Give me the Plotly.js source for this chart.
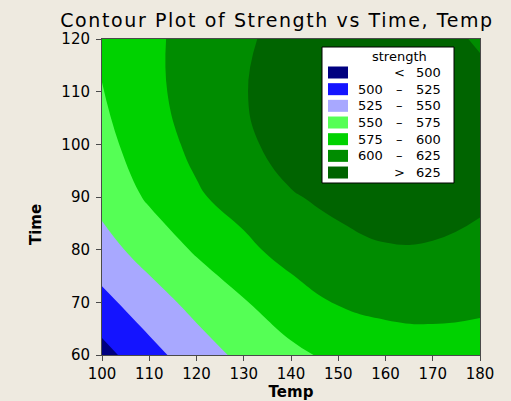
<!DOCTYPE html>
<html><head><meta charset="utf-8">
<script src="https://cdn.plot.ly/plotly-3.0.1.min.js"></script>
<style>
html,body{margin:0;padding:0;background:#eeeae0;}
#chart{width:511px;height:401px;}
.gtitle{letter-spacing:1.6px;}
</style></head><body><div id="chart"></div>
<script>
// Temp (x) and Time (y) grid, strength values
const temp = [100, 110, 120, 130, 140, 150, 160, 170, 180];
const time = [60, 70, 80, 90, 100, 110, 120];
const strengthT60  = [491.5, 516.7, 538.3, 556.0, 570.0, 580.5, 586.6, 588.8, 587.0];
const strengthT70  = [518.0, 539.3, 557.5, 573.4, 588.3, 601.6, 606.7, 607.9, 605.5];
const strengthT80  = [541.0, 560.0, 577.8, 594.0, 609.7, 619.5, 623.8, 623.5, 620.0];
const strengthT90  = [557.5, 578.3, 596.9, 610.3, 623.5, 629.5, 632.7, 632.3, 628.2];
const strengthT100 = [567.7, 587.8, 606.1, 621.0, 633.0, 636.5, 637.5, 636.5, 632.0];
const strengthT110 = [574.85, 593.9, 609.9, 624.3, 632.0, 635.5, 636.5, 635.0, 630.0];
const strengthT120 = [575.7, 594.8, 609.4, 622.8, 630.5, 632.5, 633.0, 630.5, 623.2];
const levels = [500, 525, 550, 575, 600, 625];
const bandColors = ['#000080', '#1414ff', '#a8a8ff', '#55ff55', '#00d200', '#008c00', '#006400'];
const xTicks = [100, 110, 120, 130, 140, 150, 160, 170, 180];
const yTicks = [60, 70, 80, 90, 100, 110, 120];

const z = [strengthT60, strengthT70, strengthT80, strengthT90, strengthT100, strengthT110, strengthT120];
const step = levels[1] - levels[0];
const nB = bandColors.length;
const colorscale = [];
bandColors.forEach((c, k) => {
  const lo = Math.max(0, (k - 0.5) / (nB - 1));
  const hi = Math.min(1, (k + 0.5) / (nB - 1));
  colorscale.push([lo, c]); colorscale.push([hi, c]);
});

const trace = {
  type: 'contour', x: temp, y: time, z: z,
  autocontour: false,
  contours: {start: levels[0], end: levels[levels.length - 1], size: step, coloring: 'fill', showlines: true},
  line: {width: 0, color: 'rgba(0,0,0,0)', smoothing: 1.3},
  colorscale: colorscale, showscale: false, hoverinfo: 'skip'
};

// page geometry (pixels)
const W = 511, H = 401, ML = 102, MR = 31, MT = 39, MB = 46;
const PW = W - ML - MR, PH = H - MT - MB;
const px = v => (v - ML) / PW;
const py = v => (H - MB - v) / PH;

const FONT = 'DejaVu Sans';
const shapes = [];
const annotations = [];
// legend box
shapes.push({type: 'rect', xref: 'paper', yref: 'paper', x0: px(322), x1: px(454), y0: py(183), y1: py(47),
  fillcolor: '#ffffff', line: {color: '#000000', width: 1}, layer: 'above'});
annotations.push({xref: 'paper', yref: 'paper', x: px(399.5), y: py(56.5), text: 'strength', showarrow: false,
  xanchor: 'center', yanchor: 'middle', font: {family: FONT, size: 13, color: '#000'}});
bandColors.forEach((c, i) => {
  const cy = 72.5 + 16.67 * i;
  shapes.push({type: 'rect', xref: 'paper', yref: 'paper', x0: px(328), x1: px(348), y0: py(cy + 6), y1: py(cy - 6),
    fillcolor: c, line: {width: 0}, layer: 'above'});
  let a, m, b;
  if (i === 0) { a = ''; m = '<'; b = String(levels[0]); }
  else if (i === nB - 1) { a = ''; m = '>'; b = String(levels[levels.length - 1]); }
  else { a = String(levels[i - 1]); m = '\u2013'; b = String(levels[i]); }
  const f = {family: FONT, size: 13, color: '#000'};
  if (a) annotations.push({xref: 'paper', yref: 'paper', x: px(385), y: py(cy), text: a, showarrow: false, xanchor: 'right', yanchor: 'middle', font: f});
  annotations.push({xref: 'paper', yref: 'paper', x: px(399), y: py(cy), text: m, showarrow: false, xanchor: 'center', yanchor: 'middle', font: f});
  annotations.push({xref: 'paper', yref: 'paper', x: px(443), y: py(cy), text: b, showarrow: false, xanchor: 'right', yanchor: 'middle', font: f});
});
// y axis title (placed lower than axis centre, as in the reference)
annotations.push({xref: 'paper', yref: 'paper', x: px(36), y: py(225), text: 'Time', textangle: -90, showarrow: false,
  xanchor: 'center', yanchor: 'middle', font: {family: FONT, size: 15, color: '#000', weight: 'bold'}});

const axisCommon = {
  showgrid: false, zeroline: false, showline: true, mirror: true, linecolor: '#4a4a4a', linewidth: 1,
  ticks: 'outside', ticklen: 5, tickcolor: '#4a4a4a', tickwidth: 1,
  tickfont: {family: FONT, size: 15, color: '#000'}
};

const layout = {
  width: W, height: H,
  margin: {l: ML, r: MR, t: MT, b: MB, pad: 0},
  paper_bgcolor: '#eeeae0', plot_bgcolor: '#eeeae0',
  showlegend: false,
  title: {text: 'Contour Plot of Strength vs Time, Temp', font: {family: FONT, size: 19, color: '#000'},
    xref: 'container', yref: 'container', x: 277 / W, xanchor: 'center', y: 1 - 20 / H, yanchor: 'middle'},
  xaxis: Object.assign({}, axisCommon, {range: [temp[0], temp[temp.length - 1]], tickvals: xTicks,
    title: {text: 'Temp', font: {family: FONT, size: 15, color: '#000', weight: 'bold'}, standoff: 2}}),
  yaxis: Object.assign({}, axisCommon, {range: [time[0], time[time.length - 1]], tickvals: yTicks, ticklabelstandoff: 3}),
  shapes: shapes, annotations: annotations
};

Plotly.newPlot('chart', [trace], layout, {staticPlot: true, displayModeBar: false});
</script></body></html>
